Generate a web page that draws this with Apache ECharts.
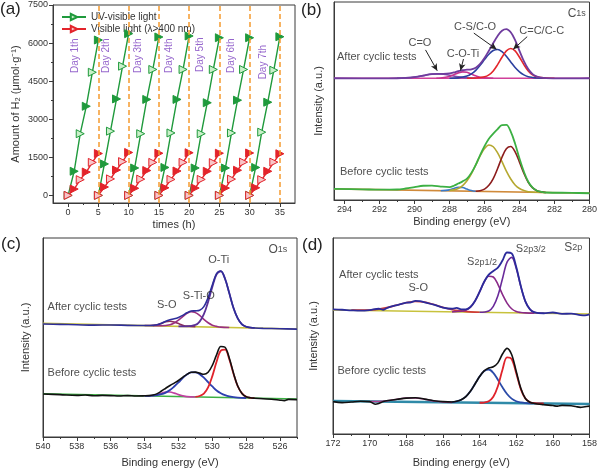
<!DOCTYPE html>
<html><head><meta charset="utf-8">
<script src="https://cdn.jsdelivr.net/npm/echarts@6/dist/echarts.min.js"></script>
<style>html,body{margin:0;padding:0;background:#fff}#c{width:600px;height:470px}</style>
</head><body><div id="c"></div>
<script>
// ---------- panel (a) data ----------
const aTicksX = [0,5,10,15,20,25,30,35];
const aMinorX = [2.5,7.5,12.5,17.5,22.5,27.5,32.5];
const aTicksY = [0,1500,3000,4500,6000,7500];
const aMinorY = [750,2250,3750,5250,6750];
const dayStarts = [0,5,10,15,20,25,30];
const hourOffsets = [0,1,2,3,4,5];
const uvH2 = [
  [0,950,2430,3510,4850,6120],
  [0,1240,2530,3800,5090,6370],
  [0,1080,2430,3780,4960,6240],
  [0,1100,2460,3780,4960,6280],
  [0,1080,2430,3650,4960,6210],
  [0,1080,2460,3750,4960,6210],
  [0,1100,2490,3670,4930,6250]
];
const visH2 = [
  [0,250,620,920,1300,1650],
  [0,330,650,1000,1330,1690],
  [0,280,640,980,1300,1660],
  [0,300,630,960,1300,1680],
  [0,290,630,950,1290,1660],
  [0,290,640,990,1310,1670],
  [0,300,620,950,1310,1640]
];
const dayLines = [5,10,15,20,25,30,35];
const dayLabels = ['Day 1th','Day 2th','Day 3th','Day 4th','Day 5th','Day 6th','Day 7th'];
const dayLabelX = [1.3,6.4,11.6,16.8,22.0,27.1,32.3];
const dayLabelY = [5480,5480,5480,5480,5520,5480,5230];

// ---------- panel (b) C1s ----------
const bTicks = [280,282,284,286,288,290,292,294];
const bMinor = [281,283,285,287,289,291,293];
const bAfterEnv = [[294.6,61.5],[292,61.4],[291,61.5],[290.5,61.7],[290,62.1],[289.5,62.8],[289,63.6],[288.5,63.7],[288,63.9],[287.75,64.4],[287.5,65.1],[287.25,65.6],[287,65.8],[286.75,66.0],[286.5,66.8],[286.25,68.7],[286,71.7],[285.75,75.4],[285.5,79.2],[285.25,82.8],[285,85.5],[284.75,86.3],[284.5,84.7],[284.25,80.7],[284,75.3],[283.75,70.1],[283.5,66.1],[283.25,63.6],[283,62.3],[282.75,61.8],[282.5,61.6],[281,61.4],[280,61.5]];
const bAfterCC = [[287,61.5],[286.5,61.6],[286,62.2],[285.75,63.2],[285.5,65.2],[285.25,68.4],[285,72.1],[284.75,75.3],[284.5,76.5],[284.25,75.3],[284,72.1],[283.75,68.4],[283.5,65.2],[283.25,63.2],[283,62.2],[282.5,61.6],[282,61.5]];
const bAfterCS = [[288,61.5],[287.5,61.7],[287,62.6],[286.75,63.7],[286.5,65.5],[286.25,68.0],[286,70.9],[285.75,73.6],[285.5,75.5],[285.25,76.0],[285,74.9],[284.75,72.6],[284.5,69.7],[284.25,66.9],[284,64.7],[283.75,63.2],[283.5,62.3],[283.25,61.9],[283,61.6],[282.5,61.5]];
const bAfterCOTi = [[288.75,61.5],[288.5,61.6],[288,62.4],[287.75,63.3],[287.5,64.2],[287.25,64.7],[287,64.5],[286.75,63.6],[286.5,62.7],[286.25,62.0],[286,61.7],[285.5,61.5]];
const bAfterCO = [[291,61.5],[290.5,61.7],[290,62.1],[289.5,62.8],[289,63.6],[288.5,63.6],[288,63.0],[287.5,62.2],[287,61.7],[286.5,61.5]];
const bAfterBase = [[294.6,61.5],[280,61.5]];
const bBeforeEnv = [[294.6,5.6],[293,5.4],[292,5.2],[291,5.3],[290.5,5.8],[290,6.5],[289.5,7.2],[289,7.3],[288.5,6.8],[288,6.5],[287.75,7.2],[287.5,8.3],[287.25,9.4],[287,10.8],[286.75,13.7],[286.5,17.7],[286.25,22.7],[286,27.2],[285.75,30.9],[285.5,33.5],[285.25,35.8],[285,37.8],[284.75,37.9],[284.5,34.5],[284.25,28.4],[284,20.9],[283.75,14.3],[283.5,9.2],[283.25,6.2],[283,4.7],[282.75,4.1],[282.5,3.8],[281,3.6],[280,3.4]];
const bBeforeOlive = [[288,4.8],[287.75,5.1],[287.5,5.8],[287.25,7.3],[287,9.7],[286.75,13.2],[286.5,17.7],[286.25,22.3],[286,26.0],[285.75,27.8],[285.5,26.9],[285.25,23.8],[285,19.4],[284.75,14.6],[284.5,10.6],[284.25,7.6],[284,5.8],[283.75,4.8],[283.5,4.2],[283,3.9],[282.5,3.8]];
const bBeforeRed = [[286.5,4.4],[286.25,4.7],[286,5.5],[285.75,7.4],[285.5,10.8],[285.25,15.9],[285,21.6],[284.75,25.9],[284.5,27.0],[284.25,24.3],[284,19.1],[283.75,13.5],[283.5,8.9],[283.25,6.1],[283,4.7],[282.75,4.1],[282.5,3.8]];
const bBeforeBlue = [[288.5,4.7],[288,5.1],[287.75,5.8],[287.5,6.4],[287.25,6.3],[287,5.5],[286.75,4.8],[286.5,4.4]];
const bBeforeBase = [[294.6,5.6],[280,3.4]];

// ---------- panel (c) O1s ----------
const cTicks = [526,528,530,532,534,536,538,540];
const cMinor = [525,527,529,531,533,535,537,539];
const cAfterEnv = [[540,56.8],[539,56.6],[538,56.4],[537,56.2],[536,56.3],[535,56.1],[534,56.0],[533.75,56.0],[533.5,56.1],[533.25,56.4],[533,57.2],[532.75,58.2],[532.5,58.9],[532.25,59.4],[532,60.1],[531.75,61.1],[531.5,62.4],[531.25,63.3],[531,63.4],[530.75,63.7],[530.5,65.5],[530.25,70.0],[530,76.4],[529.75,82.1],[529.5,83.4],[529.25,79.5],[529,72.3],[528.75,64.8],[528.5,59.6],[528.25,56.6],[528,55.4],[527.75,55.0],[527.5,54.8],[527,54.6],[526,54.4],[525,54.2]];
const cAfterOTi = [[532,55.6],[531.5,55.6],[531,56.3],[530.75,58.0],[530.5,61.7],[530.25,67.9],[530,75.4],[529.75,81.7],[529.5,83.3],[529.25,79.5],[529,72.3],[528.75,64.8],[528.5,59.6],[528.25,56.6],[528,55.4],[527.75,55.0],[527.5,54.8]];
const cAfterSTiO = [[533.5,55.9],[533,55.9],[532.5,56.4],[532.25,57.3],[532,58.7],[531.75,60.5],[531.5,62.1],[531.25,63.0],[531,62.5],[530.75,61.1],[530.5,59.1],[530.25,57.4],[530,56.2],[529.75,55.6],[529.5,55.2],[529,55.05]];
const cAfterSO = [[534,56.0],[533.5,56.1],[533.25,56.4],[533,57.1],[532.75,57.9],[532.5,58.2],[532.25,57.8],[532,57.0],[531.75,56.2],[531.5,55.7],[531,55.4]];
const cAfterBase = [[540,57.1],[525,54.3]];
const cBeforeEnv = [[540,21.6],[539,21.3],[538,20.9],[537.5,21.1],[537,20.7],[536.5,20.9],[536,20.8],[535.5,20.6],[535,20.8],[534.5,20.6],[534,20.7],[533.75,20.8],[533.5,21.1],[533.25,21.8],[533,23.1],[532.75,24.5],[532.5,25.9],[532.25,27.1],[532,28.4],[531.75,30.0],[531.5,31.5],[531.25,32.5],[531,32.6],[530.75,32.1],[530.5,31.5],[530.25,32.5],[530,36.0],[529.75,41.3],[529.5,45.5],[529.25,45.1],[529,39.7],[528.75,32.1],[528.5,25.6],[528.25,21.9],[528,20.2],[527.75,19.7],[527.5,19.5],[527,19.2],[526.5,19.0],[526,18.5],[525.75,18.3],[525.5,18.9],[525,18.8]];
const cBeforeBlue = [[534,20.7],[533.5,20.8],[533,21.5],[532.75,22.3],[532.5,23.6],[532.25,25.4],[532,27.4],[531.75,29.6],[531.5,31.4],[531.25,32.5],[531,32.5],[530.75,31.6],[530.5,29.8],[530.25,27.6],[530,25.4],[529.75,23.4],[529.5,22.0],[529.25,21.0],[529,20.4],[528.5,19.8],[528,19.6]];
const cBeforeRed = [[531,20.2],[530.75,20.6],[530.5,21.8],[530.25,24.9],[530,30.6],[529.75,37.8],[529.5,43.4],[529.25,43.9],[529,39.1],[528.75,31.8],[528.5,25.5],[528.25,21.9],[528,20.2],[527.75,19.7],[527.5,19.5]];
const cBeforeSO = [[534,20.7],[533.75,20.7],[533.5,20.9],[533.25,21.3],[533,22.0],[532.75,22.6],[532.5,22.65],[532.25,22.05],[532,21.3],[531.75,20.7],[531.5,20.3],[531,20.1]];
const cBeforeBase = [[540,21.7],[525,19.1]];

// ---------- panel (d) S2p ----------
const dTicks = [158,160,162,164,166,168,170,172];
const dMinor = [159,161,163,165,167,169,171];
const dAfterEnv = [[172,63.6],[171.5,63.4],[171,63.1],[170.5,62.9],[170,63.2],[169.5,63.9],[169.25,63.4],[169,64.5],[168.5,65.8],[168,67.0],[167.75,67.2],[167.5,67.9],[167.25,67.8],[167,67.2],[166.5,66.0],[166,64.5],[165.5,63.9],[165.25,64.3],[165,63.6],[164.75,63.6],[164.5,64.8],[164.25,67.9],[164,72.5],[163.75,77.7],[163.5,81.3],[163.25,83.2],[163,84.9],[162.75,88.5],[162.5,92.6],[162.25,92.2],[162,85.3],[161.75,75.5],[161.5,67.7],[161.25,63.6],[161,62.1],[160.5,61.6],[160,62.0],[159.5,61.3],[159,61.4],[158.5,60.7],[158.25,60.5],[158,61.0]];
const dAfterSO = [[171,63.2],[170.5,63.2],[170,63.3],[169.5,63.7],[169,64.6],[168.5,65.8],[168,67.0],[167.5,67.6],[167,67.3],[166.5,66.1],[166,64.6],[165.5,63.4],[165,62.8],[164.5,62.3],[164,62.1]];
const dAfterS12 = [[165.5,62.3],[165,62.6],[164.75,63.1],[164.5,64.7],[164.25,67.8],[164,72.5],[163.75,77.5],[163.5,80.5],[163.25,80.1],[163,76.4],[162.75,71.2],[162.5,66.8],[162.25,63.9],[162,62.5],[161.75,62.0],[161.5,61.8],[161,61.65]];
const dAfterS32 = [[164,62.1],[163.5,62.8],[163.25,65.1],[163,70.5],[162.75,79.2],[162.5,87.7],[162.25,90.1],[162,84.6],[161.75,75.3],[161.5,67.6],[161.25,63.6],[161,62.1],[160.75,61.7],[160.5,61.6]];
const dAfterBase = [[172,63.3],[158,61.2]];
const dBeforeEnv = [[172,16.5],[171.5,16.0],[171,16.3],[170.5,16.7],[170,16.5],[169.7,15.2],[169.5,15.6],[169.25,16.6],[169,17.1],[168.5,17.7],[168,18.3],[167.5,18.5],[167,17.8],[166.5,17.0],[166,16.5],[165.5,16.3],[165.25,16.7],[165,17.5],[164.75,19.1],[164.5,21.8],[164.25,25.5],[164,29.3],[163.75,32.2],[163.5,33.7],[163.25,34.3],[163,36.3],[162.75,40.8],[162.5,43.7],[162.25,40.6],[162,32.0],[161.75,23.3],[161.5,18.1],[161.25,16.2],[161,15.6],[160.5,15.0],[160,14.5],[159.75,14.2],[159.5,14.6],[159,14.4],[158.75,14.0],[158.5,13.6],[158.25,13.9],[158,14.2]];
const dBeforeBlue = [[165.5,16.3],[165.25,16.7],[165,17.45],[164.75,19.1],[164.5,21.8],[164.25,25.5],[164,29.3],[163.75,32.1],[163.5,32.9],[163.25,31.2],[163,27.7],[162.75,23.8],[162.5,20.4],[162.25,18.05],[162,16.7],[161.75,16.1],[161.5,15.8],[161,15.6]];
const dBeforeRed = [[164,15.94],[163.75,16.06],[163.5,16.7],[163.25,19.0],[163,24.4],[162.75,32.8],[162.5,39.1],[162.25,38.25],[162,31.0],[161.75,22.9],[161.5,18.1],[161.25,16.2],[161,15.7],[160.5,15.57]];
const dBeforeSO = [[170,16.6],[169.5,16.6],[169,17.0],[168.5,17.7],[168,18.4],[167.5,18.4],[167,17.7],[166.5,16.8],[166,16.3],[165.5,16.1]];
const dBeforeBase = [[172,16.8],[158,15.3]];

// ---------- annotations (data coordinates) ----------
const bNotes = [
  {t:'{a|C}{s|1s}', x:280.7, y:93.9, al:'center'},
  {t:'After cyclic tests', x:294.4, y:72.2, al:'left'},
  {t:'C=O', x:289.66, y:79.3, al:'center'},
  {t:'C-O-Ti', x:287.2, y:73.7, al:'center'},
  {t:'C-S/C-O', x:286.51, y:86.9, al:'center'},
  {t:'C=C/C-C', x:282.7, y:85.0, al:'center'},
  {t:'Before cyclic tests', x:294.23, y:14.0, al:'left'}
];
const bArrows = [
  [[289.37,75.8],[288.70,65.3]],
  [[287.2,71.2],[287.37,65.4]],
  [[286.61,84.3],[285.31,76.1]],
  [[283.56,82.5],[284.36,76.1]]
];
const cNotes = [
  {t:'{a|O}{s|1s}', x:526.1, y:94.0, al:'center'},
  {t:'O-Ti', x:529.59, y:88.9, al:'center'},
  {t:'S-Ti-O', x:530.77, y:70.5, al:'center'},
  {t:'S-O', x:532.66, y:66.0, al:'center'},
  {t:'After cyclic tests', x:539.7, y:65.0, al:'left'},
  {t:'Before cyclic tests', x:539.7, y:32.0, al:'left'}
];
const dNotes = [
  {t:'{a|S}{s|2p}', x:158.86, y:95.0, al:'center'},
  {t:'{m|S}{s|2p3/2}', x:161.18, y:93.9, al:'center'},
  {t:'{m|S}{s|2p1/2}', x:163.84, y:87.4, al:'center'},
  {t:'S-O', x:167.32, y:74.0, al:'center'},
  {t:'After cyclic tests', x:171.64, y:80.8, al:'left'},
  {t:'Before cyclic tests', x:171.73, y:31.8, al:'left'}
];

// ---------- build chart ----------
const FONT = 'Liberation Sans, Arial, sans-serif';
const AX = '#3a3a3a';
const G = '#1f9a3c', GL = '#c9efc9', R = '#e3242b', RL = '#f7c5c8';
const plain = v => String(v);

const grids = [
  {left:53, top:5, width:242, height:198},
  {left:334, top:2, width:256, height:198},
  {left:43, top:238, width:254, height:199},
  {left:333, top:238, width:258, height:196}
].map(g => Object.assign({show:true, borderColor:AX, borderWidth:1, backgroundColor:'transparent'}, g));

function xMain(gi, min, max, ticks, gap, inverse, name){
  return {type:'value', gridIndex:gi, min:min, max:max, inverse:inverse, position:'bottom',
    axisLine:{show:true, onZero:false, lineStyle:{color:AX, width:1}},
    axisTick:{show:true, customValues:ticks, length:4, lineStyle:{color:AX}},
    axisLabel:{show:true, customValues:ticks, formatter:plain, fontSize:9, color:'#333', margin:5, fontFamily:FONT},
    splitLine:{show:false},
    name:name, nameLocation:'middle', nameGap:gap,
    nameTextStyle:{fontSize:11, color:'#333', fontFamily:FONT}};
}
function xMinor(gi, min, max, vals, inverse){
  return {type:'value', gridIndex:gi, min:min, max:max, inverse:inverse, position:'bottom',
    axisLine:{show:false, onZero:false}, axisTick:{show:true, customValues:vals, length:2, lineStyle:{color:AX}},
    axisLabel:{show:false}, splitLine:{show:false}};
}
function yXps(gi, gap){
  return {type:'value', gridIndex:gi, min:0, max:100,
    axisLine:{show:true, onZero:false, lineStyle:{color:AX}}, axisTick:{show:false}, axisLabel:{show:false},
    splitLine:{show:false}, name:'Intensity (a.u.)', nameLocation:'middle', nameGap:gap, nameRotate:90,
    nameTextStyle:{fontSize:11, color:'#333', fontFamily:FONT}};
}

const xAxis = [
  xMain(0, -2.5, 37.5, aTicksX, 16, false, 'times (h)'),
  xMinor(0, -2.5, 37.5, aMinorX, false),
  xMain(1, 280, 294.6, bTicks, 16, true, 'Binding energy (eV)'),
  xMinor(1, 280, 294.6, bMinor, true),
  xMain(2, 525, 540, cTicks, 20, true, 'Binding energy (eV)'),
  xMinor(2, 525, 540, cMinor, true),
  xMain(3, 158, 172, dTicks, 23, true, 'Binding energy (eV)'),
  xMinor(3, 158, 172, dMinor, true)
];
const yAxis = [
  {type:'value', gridIndex:0, min:-300, max:7500,
    axisLine:{show:true, onZero:false, lineStyle:{color:AX}},
    axisTick:{show:true, customValues:aTicksY, length:4, lineStyle:{color:AX}},
    axisLabel:{show:true, customValues:aTicksY, formatter:plain, fontSize:9, color:'#333', margin:5, fontFamily:FONT},
    splitLine:{show:false}, name:'Amount of H\u2082 (\u03bcmol\u00b7g\u207b\u00b9)', nameLocation:'middle', nameGap:32, nameRotate:90,
    nameTextStyle:{fontSize:11, color:'#333', fontFamily:FONT}},
  {type:'value', gridIndex:0, min:-300, max:7500, position:'left',
    axisLine:{show:false, onZero:false}, axisTick:{show:true, customValues:aMinorY, length:2, lineStyle:{color:AX}},
    axisLabel:{show:false}, splitLine:{show:false}},
  yXps(1, 10),
  yXps(2, 12),
  yXps(3, 14)
];

const series = [];
function curve(xi, yi, data, color, width, z){
  series.push({type:'line', xAxisIndex:xi, yAxisIndex:yi, data:data, showSymbol:false, symbol:'none',
    smooth:0.35, lineStyle:{color:color, width:width||1.6}, z:z||2, silent:true, animation:false});
  return series[series.length-1];
}

// panel (a)
function daySeries(name, vals, d, color, light){
  return {type:'line', name:name, xAxisIndex:0, yAxisIndex:0, animation:false,
    data: vals.map((v,i) => ({value:[dayStarts[d]+hourOffsets[i], v],
      itemStyle: i%2===0 ? {color:light, borderColor:color, borderWidth:1} : {color:color, borderColor:color, borderWidth:1}})),
    symbol:'triangle', symbolRotate:-90, symbolSize:8, showSymbol:true,
    lineStyle:{color:color, width:1.4}, itemStyle:{color:light, borderColor:color, borderWidth:1}, z:4};
}
uvH2.forEach((v,d) => series.push(daySeries('UV-visible light', v, d, G, GL)));
visH2.forEach((v,d) => series.push(daySeries('Visible light (\u03bb>400 nm)', v, d, R, RL)));
series[0].markLine = {silent:true, symbol:['none','none'], label:{show:false},
  lineStyle:{color:'#f59a2f', type:[5,3], width:1.5}, data: dayLines.map(x => ({xAxis:x}))};
series.push({type:'scatter', xAxisIndex:0, yAxisIndex:0, symbolSize:1, itemStyle:{color:'rgba(0,0,0,0)'}, silent:true, animation:false,
  data: dayLabels.map((t,i) => ({value:[dayLabelX[i], dayLabelY[i]], txt:t})),
  label:{show:true, formatter:p => p.data.txt, rotate:90, position:[0,0], align:'center', verticalAlign:'middle',
    color:'#7b3fbf', fontSize:10, fontFamily:FONT}, z:5});

// panel (b)
const bb = curve(2,2,bAfterBase,'#d0409a',1.6,1);
bb.markLine = {silent:true, symbol:['none','arrow'], symbolSize:[5,7], label:{show:false},
  lineStyle:{color:'#222', width:1, type:'solid'},
  data: bArrows.map(a => [{coord:a[0]},{coord:a[1]}])};
curve(2,2,bAfterCO,'#7b4aa8');
curve(2,2,bAfterCOTi,'#c8338f');
curve(2,2,bAfterCS,'#2b3f9f');
curve(2,2,bAfterCC,'#e3262b');
curve(2,2,bAfterEnv,'#6f3c9e',1.8,3);
curve(2,2,bBeforeBase,'#d08a3a',1.6,1);
curve(2,2,bBeforeBlue,'#3a7ac8');
curve(2,2,bBeforeOlive,'#b5a830');
curve(2,2,bBeforeRed,'#8c1c1c');
curve(2,2,bBeforeEnv,'#3cb043',1.8,3);

// panel (c)
curve(4,3,cAfterBase,'#c8c23c',1.6,1);
curve(4,3,cAfterSO,'#8c2f5a');
curve(4,3,cAfterSTiO,'#9a3080');
curve(4,3,cAfterOTi,'#5a3097',1.8);
curve(4,3,cAfterEnv,'#2e2e9a',1.6,3);
curve(4,3,cBeforeBase,'#3cb043',1.6,1);
curve(4,3,cBeforeSO,'#c040a0');
curve(4,3,cBeforeBlue,'#2d3fb0',1.8);
curve(4,3,cBeforeRed,'#e0232b',1.8);
curve(4,3,cBeforeEnv,'#111111',1.6,3);

// panel (d)
curve(6,4,dAfterBase,'#c8c23c',1.6,1);
curve(6,4,dAfterSO,'#d03a3a');
curve(6,4,dAfterS12,'#8a2a88');
curve(6,4,dAfterS32,'#6a2a9a');
curve(6,4,dAfterEnv,'#2b2b9b',1.8,3);
curve(6,4,dBeforeBase,'#2f8aa8',2.6,1);
curve(6,4,dBeforeSO,'#b04090');
curve(6,4,dBeforeBlue,'#2a4aa8',1.8);
curve(6,4,dBeforeRed,'#e0232b',1.8);
curve(6,4,dBeforeEnv,'#111111',1.6,3);

const rich = {a:{fontSize:12, fontFamily:FONT, color:'#222'}, m:{fontSize:11, fontFamily:FONT, color:'#222'},
  s:{fontSize:9, fontFamily:FONT, color:'#222'}};
function notes(xi, yi, arr){
  series.push({type:'scatter', xAxisIndex:xi, yAxisIndex:yi, symbolSize:1, itemStyle:{color:'rgba(0,0,0,0)'}, silent:true, animation:false,
    data: arr.map(n => ({value:[n.x, n.y], txt:n.t, label:{align:n.al}})),
    label:{show:true, formatter:p => p.data.txt, position:[0,0], verticalAlign:'middle', color:'#222', fontSize:11,
      fontFamily:FONT, rich:rich}, z:6});
}
notes(2,2,bNotes); notes(4,3,cNotes); notes(6,4,dNotes);

const letters = [['(a)',0,1],['(b)',301,2],['(c)',1,236],['(d)',302,237]];
const option = {
  animation:false,
  backgroundColor:'#fff',
  grid: grids, xAxis: xAxis, yAxis: yAxis, series: series,
  legend: {data:['UV-visible light','Visible light (\u03bb>400 nm)'], left:56, top:7, orient:'vertical',
    itemGap:2, itemWidth:24, itemHeight:8, textStyle:{fontSize:10, color:'#333', fontFamily:FONT}},
  graphic: letters.map(l => ({type:'text', left:l[1], top:l[2], style:{text:l[0], fontSize:17, fontFamily:FONT, fill:'#222'}}))
};
const chart = echarts.init(document.getElementById('c'), null, {renderer:'canvas'});
chart.setOption(option);
</script></body></html>
